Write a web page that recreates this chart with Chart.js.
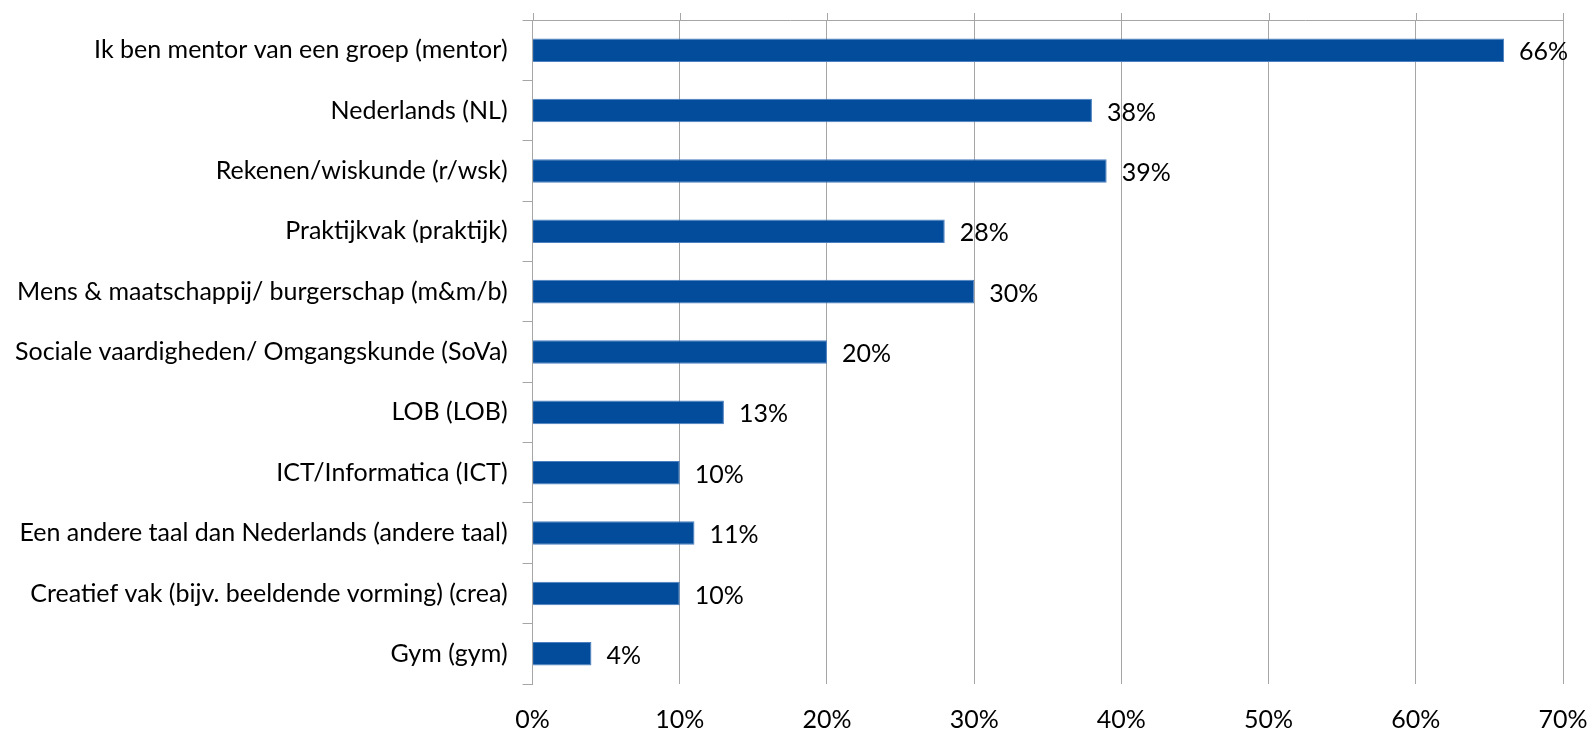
<!DOCTYPE html>
<html>
<head>
<meta charset="utf-8">
<script src="https://cdn.jsdelivr.net/npm/chart.js@4.4.1/dist/chart.umd.min.js"></script>
<style>
  html, body { margin: 0; padding: 0; background: #fff; }
  #wrap { width: 1592px; height: 730px; }
</style>
</head>
<body>
<div id="wrap"><canvas id="chart"></canvas></div>
<script>
// categories and values (percent)
const categories = [
  'Ik ben mentor van een groep (mentor)',
  'Nederlands (NL)',
  'Rekenen/wiskunde (r/wsk)',
  'Praktijkvak (praktijk)',
  'Mens & maatschappij/ burgerschap (m&m/b)',
  'Sociale vaardigheden/ Omgangskunde (SoVa)',
  'LOB (LOB)',
  'ICT/Informatica (ICT)',
  'Een andere taal dan Nederlands (andere taal)',
  'Creatief vak (bijv. beeldende vorming) (crea)',
  'Gym (gym)'
];
const values = [66, 38, 39, 28, 30, 20, 13, 10, 11, 10, 4];
const xTicks = [0, 10, 20, 30, 40, 50, 60, 70];

const FONT = 'Lato';
const FSIZE = 25;
const gridGray = '#a6a6a6';

// value labels at bar ends
const valueLabels = {
  id: 'valueLabels',
  afterDatasetsDraw(chart) {
    const ctx = chart.ctx;
    ctx.save();
    ctx.font = FSIZE + 'px ' + FONT;
    ctx.fillStyle = '#000';
    ctx.textBaseline = 'middle';
    ctx.textAlign = 'left';
    chart.getDatasetMeta(0).data.forEach((bar, i) => {
      ctx.fillText(values[i] + '%', bar.x + 15, bar.y + 2);
    });
    ctx.restore();
  }
};

// vertical gridlines poke a few px above the plot, like the original
const gridStubs = {
  id: 'gridStubs',
  beforeDatasetsDraw(chart) {
    const ctx = chart.ctx, x = chart.scales.x, top = chart.chartArea.top;
    ctx.save();
    ctx.strokeStyle = gridGray;
    ctx.lineWidth = 1;
    xTicks.forEach(v => {
      const px = Math.round(x.getPixelForValue(v)) + 0.5;
      ctx.beginPath(); ctx.moveTo(px, top - 7); ctx.lineTo(px, top); ctx.stroke();
    });
    ctx.restore();
  }
};

new Chart(document.getElementById('chart'), {
  type: 'bar',
  data: {
    labels: categories,
    datasets: [{
      data: values,
      backgroundColor: '#024c9b',
      borderColor: '#4a7fc0',
      borderWidth: 1,
      barPercentage: 0.39,
      categoryPercentage: 1
    }]
  },
  options: {
    indexAxis: 'y',
    responsive: true,
    maintainAspectRatio: false,
    animation: false,
    layout: { padding: 0 },
    plugins: { legend: { display: false }, tooltip: { enabled: false } },
    scales: {
      x: {
        min: 0, max: 70,
        afterBuildTicks: s => { s.ticks = xTicks.map(v => ({ value: v })); },
        afterFit: s => { s.paddingRight = 29; s.height = 46; },
        grid: { color: gridGray, drawTicks: false },
        border: { display: false },
        ticks: { padding: 21, color: '#000', font: { family: FONT, size: FSIZE }, callback: v => v + '%' }
      },
      y: {
        afterFit: s => { s.paddingTop = 20; s.paddingBottom = 0; },
        grid: {
          offset: true,
          color: c => c.index === 0 ? gridGray : 'transparent',
          tickColor: gridGray,
          tickLength: 10
        },
        border: { display: true, color: gridGray },
        ticks: { padding: 15, color: '#000', font: { family: FONT, size: FSIZE } }
      }
    }
  },
  plugins: [valueLabels, gridStubs]
});
</script>
</body>
</html>
